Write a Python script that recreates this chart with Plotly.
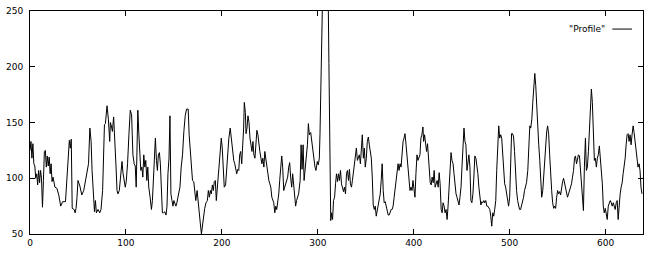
import plotly.graph_objects as go

# Profile readings (position, value)
pos_a = [0,1,2,3,4,5,6,7,8,9,10,11,12,13,14,15,16,17,18,19,20,21,22,23,24,25,26,28,30,32,34,37,38,40,41,42,43,44,46,47,48,49,50,52,54,56,58,60,61,62.4,63.7,64.7,66,67.2,68.2,69.2,71,72.7,74,75.7,77.6,78.6,80.3,81.7,83.1,83.8,84.8,85.9,87.2,88.3,89.7,90.7,91.7,93.1,94.1,95.9,96.9,98.3,99.3,100.3,101.7,103.1,104.5,105.9]
val_a = [125,133,118,131,113,111,100,104,94,107,96,107,100,74,98,124,125,110,120,111,119,104,113,97,101,96,92,91,85,75,79,79,92,115,134,127,135,73,72,69,73,83,98,93,85,89,100,107,113,145,133,107,88,70,80,69,72,69,72,89,148,149,165,153,133,150,147,142,155,127,110,89,86,89,98,115,105,97,92,97,113,139,161,157]

pos_b = [107.3,108.6,109.7,110.7,111.4,112.4,113.5,114.5,115.5,116.6,117.6,118.6,119.7,120.7,121.8,122.8,123.8,125.2,126.6,127.6,128.6,129.7,130.7,131.8,132.8,133.8,134.9,135.9,136.9,138,139,140.4,141.8,142.8,143.8,144.9,145.9,146.9,148,149,150,151.1,152.1,153.1,154.2,155.2,156.3,157.6,159,160.4,161.8,163.2,164.9,165.9,167.3,168.3,169.4,170.7,171.8,172.8,174.2,175.2,176.3,177.6,178.7,179.7,180.7,182.1,183.5,184.9,185.9,187,188,189,190.1,191.1,192.1,193.2,194.2,195.2,196.3,197.3,198.3,199.4,200.4,201.4,202.5,203.9,205.2,206.3,207.3,208.7,209.7,210.8]
val_b = [121,113,111,92,118,161,139,113,107,110,101,121,110,116,98,110,92,83,72,80,98,130,136,116,107,121,123,113,89,69,69,70,67,75,104,118,156,86,80,75,80,78,75,78,83,86,92,110,121,142,156,162,162,139,118,104,98,97,88,80,89,78,69,59,50,57,63,73,78,80,89,83,89,86,94,89,97,98,80,92,104,108,124,136,127,110,92,94,110,130,136,145,136,127]

pos_c = [211.4,212.4,213.4,214.5,215.5,216.5,217.6,218.6,219.6,220.7,221.7,222.7,223.4,224.5,225.2,226.2,227.2,228.3,229.3,230.3,231.4,232.4,233.4,234.5,235.5,236.5,237.6,238.6,239.6,240.7,241.7,242.7,243.8,244.8,245.9,246.9,247.9,249,250,251,252.1,253.1,254.1,255.2,256.2,257.2,258.3,259.3,260.3,261.4,262.4,263.4,264.5,265.5,266.6,267.6,268.6,269.7,270.7,271.7,272.8,273.8,274.8,275.9,276.9,277.9,279,280]
val_c = [118,116,113,107,104,108,107,121,124,113,127,145,168,159,140,145,156,150,136,127,124,133,121,118,133,143,139,127,124,118,113,118,110,124,116,110,104,98,95,92,83,80,78,69,75,72,78,86,98,116,120,110,89,92,95,98,101,110,114,101,92,104,95,83,75,80,83,86]

pos_d = [281.6,282.6,283.6,284.7,285.7,286.7,288.1,289.2,290.2,291.2,292.6,293.6,294.7,296,297.1,298.1,299.5,300.5,301.6,302.3,303,304,305,306,307,308,309,310.5,311.6,312.3,313.5]
val_d = [98,130,108,130,98,107,118,130,149,139,141,133,124,115,110,107,115,112,118,140,177,221,275,310,340,320,300,290,203,118,62]

pos_e = [314.4,315.4,316.4,317.5,318.5,319.5,320.6,321.6,322.6,323.7,324.7,325.7,326.8,327.8,328.9,329.9,330.9,332,333,334,335.1,336.1,337.1,338.2,339.2,340.2,341.3,342.3,343.3,344.4,345.4,346.4,347.5,348.5,349.5,350.6,351.6,352.7,353.7,354.7,355.8,356.8,357.8,358.9,359.9,360.9,362,363,364,365.1,366.1,367.1,368.2,369.2,370.3,371.3,372.3,373.4,374.4,375.4,376.5,377.5,378.5,379.6,380.6,381.6,382.7,383.7,384.7,385.8,386.8,387.8,388.9,389.9,390.9,392,393,394,395.1,396.1,397.2,398.2,399.2,400.3,401.3,402.3,403.4,404.4,405.4,406.5,407.5,408.5,409.6]
val_e = [69,63,80,83,95,104,97,104,98,107,95,92,88,92,86,104,107,98,108,95,92,98,104,113,121,127,116,118,121,113,130,139,118,127,110,118,133,137,130,124,118,101,76,72,75,66,72,75,80,86,98,113,89,78,79,75,70,67,67,69,72,72,75,83,92,101,110,113,107,113,110,127,133,136,140,130,118,110,98,89,92,89,98,92,83,104,121,116,118,121,136,139,146]

pos_f = [410.3,411.3,412.3,413.4,414.4,415.1,416.1,417.2,418.2,419.2,420.3,421.3,422.3,423.4,424.4,425.5,426.5,427.5,428.6,429.6,430.6,431.7,432.7,433.7,434.8,435.8,436.8,437.9,438.9,439.9,441,442,443,444.1,445.1,446.2,447.2,448.2,449.3,450.3,451.3,452.4,453.4,454.4,455.5,456.5,457.5,458.6,459.6,460.6,461.7,462.7,463.7,464.8,465.8,466.9,467.9,468.9,470,471,472,473.1,474.1,475.1,476.2,477.2,478.2,479.3,480.3,481.3,482.4,483.4,484.4,485.5,486.5,487.6,488.6,489.6,490.7,491.7,492.7,493.8,494.8,495.8,496.9,497.9,498.9,500,501,502,503.1,504.1,505.1,506.2,507.2,508.3,509.3,510.3,511.4,512.4,513.4,514.5,515.5,516.5,517.6]
val_f = [133,139,130,124,131,121,104,96,94,101,96,107,92,95,98,92,105,95,72,69,78,75,69,72,63,75,89,110,123,116,113,104,95,86,83,80,76,83,92,110,127,145,133,130,107,116,121,110,80,78,86,101,120,118,113,104,92,85,76,79,78,80,78,80,75,75,73,72,66,57,69,66,72,80,107,133,147,136,139,136,124,104,95,92,86,80,75,83,118,140,140,137,124,104,89,80,75,72,72,75,80,83,89,92,96]

pos_g = [518.9,520,521,522,523.1,524.1,525.2,526.2,527.2,528.3,529.3,530.3,531.4,532.4,533.4,534.5,535.5,536.5,537.6,538.6,539.6,540.7,541.7,542.7,543.8,544.8,545.9,546.9,547.9,549,550,551,552.1,553.1,554.1,555.2,556.2,557.2,558.3,559.3,560.3,561.4,562.4,563.5,564.5,565.5,566.6,567.6,568.6,569.7,570.7,571.7,572.8,573.8,574.8,575.9,576.9,577.9,579,580,581,582.1,583.1,584.2,585.2,586.2,587.3,588.3,589.3,590.4,591.4,592.4,593.5,594.5,595.5,596.6,597.6,598.6,599.7,600.7,601.7,602.8,603.8,604.9,605.9,606.9,608,609,610,611.1,612.1,613.1,614.2,615.2,616.2,617.3,618.3,619.3,620.4,621.4,622.4,623.5,624.5,625.5,626.6,627.6,628.7,629.7,630.7,631.8,632.8,633.8,634.9,635.9,636.9,638]
val_g = [107,127,147,145,153,168,188,194,183,162,139,130,116,98,83,89,101,116,133,142,147,139,121,101,89,78,73,75,73,83,89,86,88,85,92,97,100,95,92,88,83,86,89,92,95,101,107,118,120,113,118,121,120,107,92,80,71,110,136,107,110,124,144,171,180,168,133,116,118,110,118,121,129,118,113,95,75,69,73,66,63,75,78,80,78,75,78,75,72,78,80,63,80,86,92,96,104,110,118,130,139,140,133,139,130,139,147,141,133,121,116,110,113,107,92,86]

x_ticks = [0, 100, 200, 300, 400, 500, 600]
y_ticks = [50, 100, 150, 200, 250]
series_name = '"Profile"'

xs = pos_a + pos_b + pos_c + pos_d + pos_e + pos_f + pos_g
ys = val_a + val_b + val_c + val_d + val_e + val_f + val_g

font = dict(family="DejaVu Sans", size=9, color="black")

fig = go.Figure()
fig.add_trace(go.Scatter(x=xs, y=ys, mode="lines", name=series_name,
                         line=dict(color="black", width=1), showlegend=False))

axis_common = dict(showline=True, linecolor="black", linewidth=1, mirror="allticks",
                   ticks="inside", ticklen=5, tickcolor="black", tickwidth=1,
                   showgrid=False, zeroline=False, tickfont=font)
fig.update_xaxes(range=[0, 639], tickvals=x_ticks, ticktext=[str(v) for v in x_ticks], **axis_common)
fig.update_yaxes(range=[50, 250], tickvals=y_ticks, ticktext=[str(v) for v in y_ticks],
                 ticklabelstandoff=4, **axis_common)

# legend (gnuplot style: text then line sample)
fig.add_annotation(xref="paper", yref="paper", x=0.942, y=0.921, text=series_name,
                   showarrow=False, xanchor="right", yanchor="middle", font=font)
fig.add_shape(type="line", xref="paper", yref="paper", x0=0.950, x1=0.982, y0=0.919, y1=0.919,
              line=dict(color="black", width=1))

fig.update_layout(width=650, height=254, margin=dict(l=26, r=6, t=6, b=19),
                  paper_bgcolor="white", plot_bgcolor="white", font=font)
fig.write_html("out.html")
